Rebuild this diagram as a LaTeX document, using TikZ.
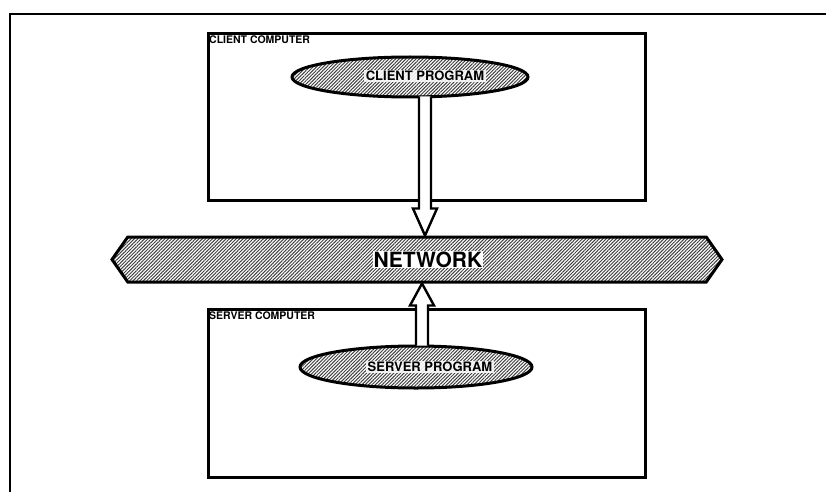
\documentclass[tikz,border=0pt]{standalone}
\usepackage{fontspec}
\setmainfont{TeX Gyre Heros}
\usetikzlibrary{shapes.geometric,shapes.symbols,patterns.meta,calc}
\tikzset{
  frameline/.style={line width=2pt},
  compbox/.style={draw, line width=2.6pt, minimum width=437pt, anchor=north west, inner sep=0pt},
  boxlabel/.style={anchor=north west, inner sep=0pt, font=\bfseries\fontsize{10.5}{12}\selectfont},
  prog/.style={ellipse, draw, line width=3pt, inner sep=0pt,
    pattern={Lines[angle=45,distance=2.4pt,line width=1pt]}, pattern color=black!75},
  proglabel/.style={fill=white, fill opacity=0.85, text opacity=1, inner sep=1.5pt, font=\bfseries\fontsize{13}{15}\selectfont},
  netshape/.style={signal, signal to=west and east, signal pointer angle=110, draw, line width=3pt,
    minimum width=610pt, minimum height=45pt, inner sep=0pt,
    pattern={Lines[angle=45,distance=2.4pt,line width=1pt]}, pattern color=black!75},
  netlabel/.style={fill=white, inner sep=1pt, font=\bfseries\fontsize{21}{24}\selectfont},
  hollow/.style={draw, fill=white, line width=2.4pt, line join=miter},
}
\begin{document}
\begin{tikzpicture}[x=1pt,y=-1pt]
\useasboundingbox (0,0) rectangle (826,492);
% outer frame
\coordinate (fa) at (826,14);
\coordinate (fb) at (10,14);
\coordinate (fc) at (10,492);
\draw[frameline] (fa) -- (fb) -- (fc);
% computer boxes
\node[compbox, minimum height=167pt] (cbox) at (207,32) {};
\node[compbox, minimum height=168pt] (sbox) at (207,308) {};
\node[boxlabel] (clab) at (209,36) {CLIENT COMPUTER};
\node[boxlabel] (slab) at (209,312) {SERVER COMPUTER};
% programs
\node[prog, minimum width=236pt, minimum height=40pt] (cp) at (410,77) {};
\node[proglabel] (cpl) at (425,76) {CLIENT PROGRAM};
\node[prog, minimum width=232pt, minimum height=42pt] (sp) at (416,367) {};
\node[proglabel] (spl) at (430,367) {SERVER PROGRAM};
% network
\node[netshape] (net) at (417,259.5) {};
\node[netlabel] (netl) at (428,259.5) {NETWORK};
% hollow arrows
\coordinate (ca) at ($(cp.south)+(15,-1)$);
\coordinate (ct) at ($(net.north)+(8,0)$);
\draw[hollow] ($(ca)+(-6,0)$) -- ($(ct)+(-6,-27)$) -- ($(ct)+(-12,-27)$) -- (ct)
  -- ($(ct)+(12,-27)$) -- ($(ct)+(6,-27)$) -- ($(ca)+(6,0)$);
\coordinate (sa) at ($(sp.north)+(6,1)$);
\coordinate (st) at ($(net.south)+(5,0)$);
\draw[hollow] ($(sa)+(-6,0)$) -- ($(st)+(-6,22)$) -- ($(st)+(-12,22)$) -- (st)
  -- ($(st)+(12,22)$) -- ($(st)+(6,22)$) -- ($(sa)+(6,0)$);
\end{tikzpicture}
\end{document}
